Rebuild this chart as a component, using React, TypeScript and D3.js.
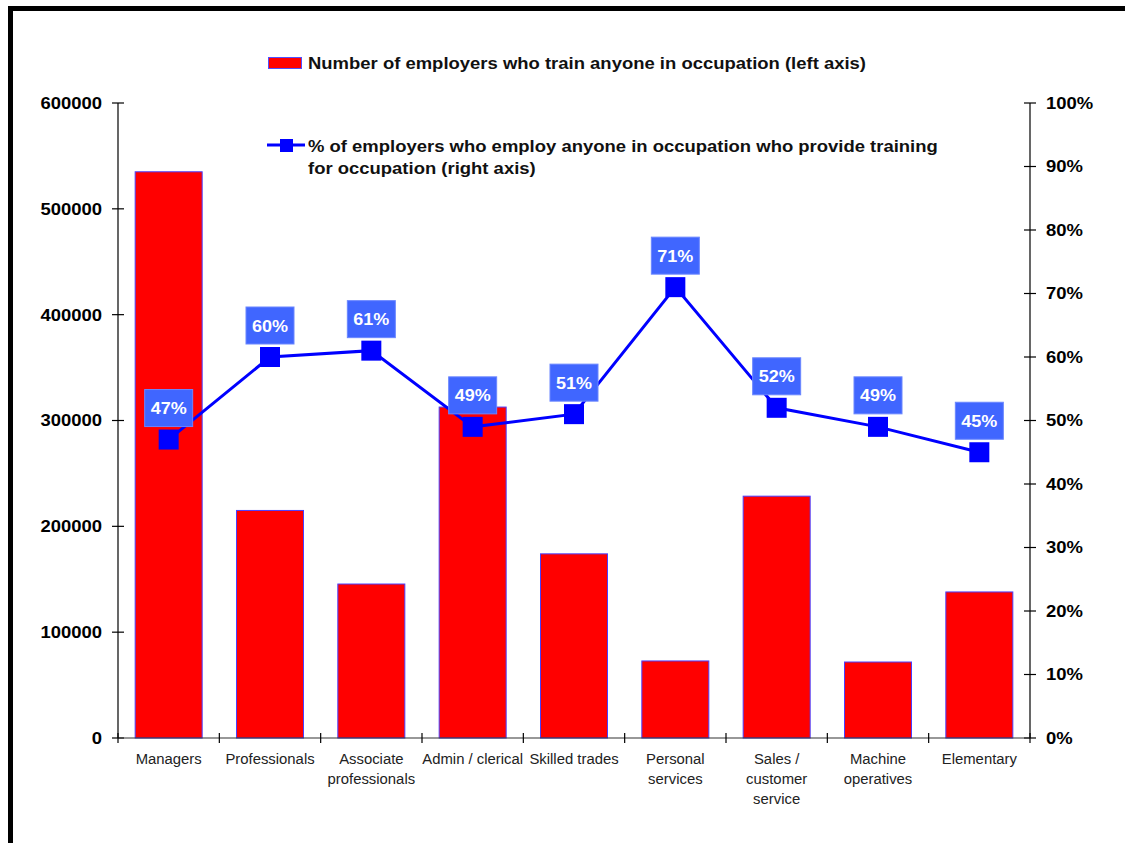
import React from "react";
import * as d3 from "d3";

const categories = [
  ["Managers"],
  ["Professionals"],
  ["Associate", "professionals"],
  ["Admin / clerical"],
  ["Skilled trades"],
  ["Personal", "services"],
  ["Sales /", "customer", "service"],
  ["Machine", "operatives"],
  ["Elementary"],
];
const employersTraining = [535000, 215000, 145500, 312700, 174000, 72800, 228500, 71800, 138000];
const pctProviding = [47, 60, 61, 49, 51, 71, 52, 49, 45];
const leftTicks = [0, 100000, 200000, 300000, 400000, 500000, 600000];
const rightTicks = [0, 10, 20, 30, 40, 50, 60, 70, 80, 90, 100];

const W = 1125;
const H = 843;
const plot = { left: 118, right: 1030, top: 103, bottom: 738 };
const FONT = "Arial, 'Liberation Sans', Helvetica, sans-serif";
const SX = 1.12;

function StretchText(props: {
  x: number;
  y: number;
  sx?: number;
  anchor?: "start" | "middle" | "end";
  size: number;
  weight?: string;
  fill?: string;
  dy?: string;
  children: React.ReactNode;
}) {
  const { x, y, sx = SX, anchor = "start", size, weight = "bold", fill = "#000", dy, children } = props;
  return (
    <text
      transform={`translate(${x},${y}) scale(${sx},1)`}
      textAnchor={anchor}
      fontSize={size}
      fontWeight={weight}
      fill={fill}
      dy={dy}
    >
      {children}
    </text>
  );
}

export default function App() {
  const yL = d3.scaleLinear().domain([0, 600000]).range([plot.bottom, plot.top]);
  const yR = d3.scaleLinear().domain([0, 100]).range([plot.bottom, plot.top]);
  const step = (plot.right - plot.left) / categories.length;
  const cx = (i: number) => plot.left + step * (i + 0.5);
  const line = d3
    .line<number>()
    .x((_, i) => cx(i))
    .y((d) => yR(d));

  return (
    <svg
      width={W}
      height={H}
      style={{ position: "absolute", left: 0, top: 0, background: "#fff" }}
      fontFamily={FONT}
    >
      <rect x={0} y={0} width={W} height={H} fill="#fff" />
      {/* border */}
      <path d={`M10.5,${H + 5} L10.5,8.5 L${W + 5},8.5`} fill="none" stroke="#000" strokeWidth={5} />

      {/* bars */}
      {employersTraining.map((v, i) => {
        const bw = 67;
        return (
          <rect
            key={i}
            x={cx(i) - bw / 2}
            y={yL(v)}
            width={bw}
            height={plot.bottom - yL(v)}
            fill="#ff0000"
            stroke="#4a3fff"
            strokeWidth={1}
          />
        );
      })}

      {/* left axis */}
      <line x1={plot.left} x2={plot.left} y1={plot.top} y2={plot.bottom} stroke="#000" strokeWidth={1.2} />
      {leftTicks.map((t) => (
        <g key={t}>
          <line x1={plot.left - 6} x2={plot.left + 6} y1={yL(t)} y2={yL(t)} stroke="#000" strokeWidth={1.2} />
          <StretchText x={plot.left - 16} y={yL(t)} dy="0.36em" anchor="end" size={16.5}>
            {t}
          </StretchText>
        </g>
      ))}

      {/* right axis */}
      <line x1={plot.right} x2={plot.right} y1={plot.top} y2={plot.bottom} stroke="#000" strokeWidth={1.2} />
      {rightTicks.map((t) => (
        <g key={t}>
          <line x1={plot.right - 6} x2={plot.right + 6} y1={yR(t)} y2={yR(t)} stroke="#000" strokeWidth={1.2} />
          <StretchText x={plot.right + 16} y={yR(t)} dy="0.36em" anchor="start" size={16.5}>
            {t}%
          </StretchText>
        </g>
      ))}

      {/* x axis */}
      <line x1={plot.left} x2={plot.right} y1={plot.bottom} y2={plot.bottom} stroke="#333" strokeWidth={1.2} />
      {d3.range(categories.length + 1).map((i) => (
        <line
          key={i}
          x1={plot.left + step * i}
          x2={plot.left + step * i}
          y1={plot.bottom - 5}
          y2={plot.bottom + 5}
          stroke="#000"
          strokeWidth={1.2}
        />
      ))}
      {categories.map((lines, i) =>
        lines.map((l, j) => (
          <StretchText
            key={`${i}-${j}`}
            x={cx(i)}
            y={764 + j * 20}
            anchor="middle"
            size={14.3}
            weight="normal"
            fill="#222"
            sx={1.04}
          >
            {l}
          </StretchText>
        ))
      )}

      {/* line series */}
      <path d={line(pctProviding) || ""} fill="none" stroke="#0000ff" strokeWidth={3} />
      {pctProviding.map((v, i) => (
        <rect key={i} x={cx(i) - 10} y={yR(v) - 10} width={20} height={20} fill="#0000ff" />
      ))}
      {pctProviding.map((v, i) => (
        <g key={i}>
          <rect x={cx(i) - 24} y={yR(v) - 50} width={48} height={37} fill="#4066ff" stroke="#6a86ff" strokeWidth={1} />
          <StretchText x={cx(i)} y={yR(v) - 31.5} dy="0.36em" anchor="middle" size={17} fill="#fff" sx={1.06}>
            {v}%
          </StretchText>
        </g>
      ))}

      {/* legend */}
      <rect x={268.5} y={57.5} width={33} height={11} fill="#ff0000" stroke="#5050ff" strokeWidth={1} />
      <StretchText x={308} y={69} size={16.5} fill="#111">
        Number of employers who train anyone in occupation (left axis)
      </StretchText>
      <line x1={267} x2={305} y1={145} y2={145} stroke="#0000ff" strokeWidth={3} />
      <rect x={280} y={139} width={13} height={13} fill="#0000ff" />
      <StretchText x={308} y={152} size={16.5} fill="#111">
        % of employers who employ anyone in occupation who provide training
      </StretchText>
      <StretchText x={308} y={174} size={16.5} fill="#111">
        for occupation (right axis)
      </StretchText>
    </svg>
  );
}
